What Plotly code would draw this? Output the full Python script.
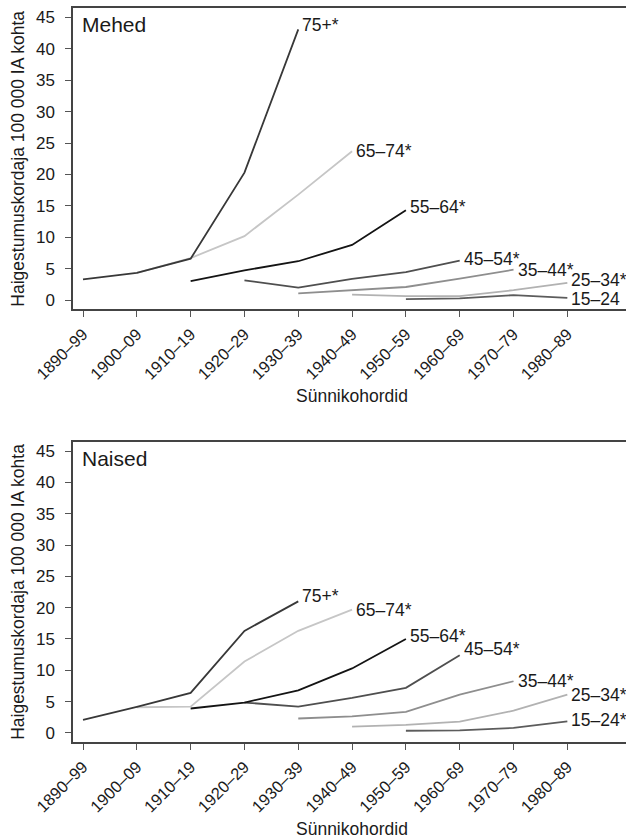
import plotly.graph_objects as go

# Birth cohorts on the x axis
cohorts = ["1890–99", "1900–09", "1910–19", "1920–29", "1930–39",
           "1940–49", "1950–59", "1960–69", "1970–79", "1980–89"]

# Age groups (label drawn at the end of each line)
groups_men = ["15–24", "25–34*", "35–44*", "45–54*", "55–64*", "65–74*", "75+*"]
groups_women = ["15–24*", "25–34*", "35–44*", "45–54*", "55–64*", "65–74*", "75+*"]

# Men: incidence per 100 000 person-years by cohort
men_15_24 = [None, None, None, None, None, None, 0.16, 0.3, 0.8, 0.37]
men_25_34 = [None, None, None, None, None, 0.9, 0.65, 0.65, 1.6, 2.75]
men_35_44 = [None, None, None, None, 1.07, 1.6, 2.1, 3.45, 4.85, None]
men_45_54 = [None, None, None, 3.15, 2.0, 3.4, 4.45, 6.3, None, None]
men_55_64 = [None, None, 3.05, 4.75, 6.2, 8.8, 14.3, None, None, None]
men_65_74 = [None, 4.35, 6.7, 10.2, 16.8, 23.7, None, None, None, None]
men_75p = [3.3, 4.35, 6.6, 20.3, 43.1, None, None, None, None, None]

# Women
women_15_24 = [None, None, None, None, None, None, 0.35, 0.42, 0.8, 1.85]
women_25_34 = [None, None, None, None, None, 1.0, 1.3, 1.8, 3.55, 6.1]
women_35_44 = [None, None, None, None, 2.3, 2.65, 3.35, 6.1, 8.25, None]
women_45_54 = [None, None, None, 4.85, 4.2, 5.6, 7.2, 12.4, None, None]
women_55_64 = [None, None, 3.9, 4.85, 6.8, 10.3, 15.0, None, None, None]
women_65_74 = [None, 4.1, 4.2, 11.4, 16.3, 19.7, None, None, None, None]
women_75p = [2.1, 4.15, 6.4, 16.3, 21.0, None, None, None, None, None]

y_ticks = [0, 5, 10, 15, 20, 25, 30, 35, 40, 45]

men_series = [men_15_24, men_25_34, men_35_44, men_45_54, men_55_64, men_65_74, men_75p]
women_series = [women_15_24, women_25_34, women_35_44, women_45_54, women_55_64, women_65_74, women_75p]

# line shades, youngest to oldest group
shades = ["#5c5c5c", "#b2b2b2", "#8e8e8e", "#4f4f4f", "#141414", "#c6c6c6", "#383838"]

# vertical nudges (px) of the end labels
nudge_men = [-1.5, 3, 0, 2, 3, 0, 4]
nudge_women = [1.5, 0, 0, 6, 3, 0, 5]

FONT = "Liberation Sans, Arial, sans-serif"
TXT = "#1a1a1a"

fig = go.Figure()
annotations = []


def add_panel(series, groups, nudges, xa, ya, title):
    xref = "x" if xa == 1 else f"x{xa}"
    yref = "y" if ya == 1 else f"y{ya}"
    for vals, name, col, dy in zip(series, groups, shades, nudges):
        xs = [c for c, v in zip(cohorts, vals) if v is not None]
        ys = [v for v in vals if v is not None]
        fig.add_trace(go.Scatter(
            x=xs, y=ys, mode="lines", name=name,
            line=dict(color=col, width=1.8),
            xaxis=xref, yaxis=yref, showlegend=False, hoverinfo="x+y+name"))
        annotations.append(dict(
            x=xs[-1], y=ys[-1], xref=xref, yref=yref, text=name,
            showarrow=False, xanchor="left", yanchor="middle", borderpad=0,
            xshift=3, yshift=dy, font=dict(family=FONT, size=17.5, color=TXT)))
    # panel title
    annotations.append(dict(
        x=0, y=1, xref=f"{xref} domain", yref=f"{yref} domain", text=title,
        showarrow=False, xanchor="left", yanchor="top", xshift=7, yshift=-3,
        font=dict(family=FONT, size=21, color=TXT)))
    # axis titles
    annotations.append(dict(
        x=0.505, y=0, xref=f"{xref} domain", yref=f"{yref} domain",
        text="Sünnikohordid", showarrow=False, xanchor="center", yanchor="middle",
        yshift=-87, font=dict(family=FONT, size=17.5, color=TXT)))
    annotations.append(dict(
        x=0, y=0.5, xref=f"{xref} domain", yref=f"{yref} domain",
        text="Haigestumuskordaja 100 000 IA kohta", showarrow=False,
        textangle=-90, xanchor="center", yanchor="middle", xshift=-55,
        font=dict(family=FONT, size=17.5, color=TXT)))


add_panel(men_series, groups_men, nudge_men, 1, 1, "Mehed")
add_panel(women_series, groups_women, nudge_women, 2, 2, "Naised")

xaxis_common = dict(
    type="category", categoryorder="array", categoryarray=cohorts,
    range=[-0.186, 10.09], tickvals=cohorts, ticktext=cohorts,
    tickangle=-45, ticks="outside", ticklen=6, tickwidth=1.2, tickcolor="#555",
    showline=True, linecolor="#444", linewidth=1.5, mirror=True,
    showgrid=False, zeroline=False, ticklabelstandoff=1,
    tickfont=dict(family=FONT, size=16.5, color=TXT))
yaxis_common = dict(
    range=[-1.45, 46.5], tickvals=y_ticks, ticks="outside", ticklen=6,
    tickwidth=1.2, tickcolor="#555", showline=True, linecolor="#444",
    linewidth=1.5, showgrid=False, zeroline=False, ticklabelstandoff=7,
    tickfont=dict(family=FONT, size=17, color=TXT))

fig.update_layout(
    width=626, height=838,
    margin=dict(l=73, r=0, t=8, b=96),
    paper_bgcolor="white", plot_bgcolor="white",
    xaxis=dict(xaxis_common, domain=[0, 1], anchor="y"),
    yaxis=dict(yaxis_common, domain=[0.5895, 1.0], anchor="x"),
    xaxis2=dict(xaxis_common, domain=[0, 1], anchor="y2"),
    yaxis2=dict(yaxis_common, domain=[0.0, 0.4091], anchor="x2"),
    annotations=annotations,
)

fig.write_html("out.html")
